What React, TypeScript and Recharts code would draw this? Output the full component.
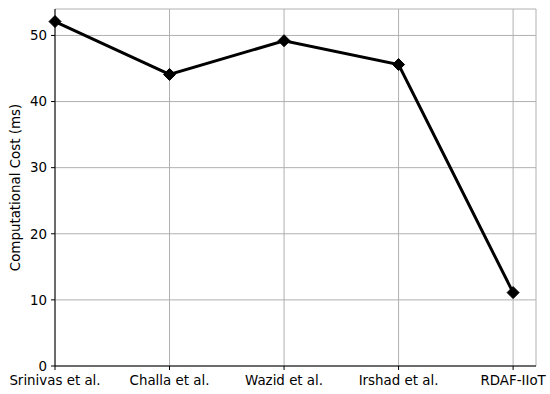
import { CartesianGrid, Line, LineChart, XAxis, YAxis } from 'recharts'

const schemes = ['Srinivas et al.', 'Challa et al.', 'Wazid et al.', 'Irshad et al.', 'RDAF-IIoT']
const costMs = [52.1, 44.1, 49.2, 45.6, 11.1]
const yTicks = [0, 10, 20, 30, 40, 50]

const data = schemes.map((name, i) => ({ idx: i, name, cost: costMs[i] }))

const font = { fontFamily: 'DejaVu Sans', fontSize: 13.4, fill: '#000' }

function Diamond(props: any) {
  const { cx, cy } = props
  if (cx == null || cy == null) return null
  const r = 6
  return (
    <polygon
      points={`${cx},${cy - r} ${cx + r},${cy} ${cx},${cy + r} ${cx - r},${cy}`}
      fill="#000"
      stroke="#000"
    />
  )
}

export default function App() {
  return (
    <div style={{ position: 'absolute', left: 0, top: 0, width: 550, height: 394, background: '#fff' }}>
      <LineChart
        width={550}
        height={394}
        data={data}
        margin={{ top: 9, right: 14, left: 0, bottom: 0 }}
      >
        <CartesianGrid stroke="#b0b0b0" strokeWidth={1} />
        <XAxis
          dataKey="idx"
          type="number"
          domain={[0, 4.2]}
          ticks={[0, 1, 2, 3, 4]}
          tickFormatter={(v: number) => schemes[v]}
          tick={font}
          tickLine={{ stroke: '#000' }}
          tickSize={4}
          tickMargin={5}
          axisLine={{ stroke: '#000' }}
          height={28}
          interval={0}
        />
        <XAxis xAxisId="top" orientation="top" type="number" domain={[0, 4.2]} tick={false} tickLine={false} axisLine={{ stroke: '#000' }} height={0} />
        <YAxis
          type="number"
          domain={[0, 54]}
          ticks={yTicks}
          tick={font}
          tickLine={{ stroke: '#000' }}
          tickSize={4}
          tickMargin={4}
          axisLine={{ stroke: '#000' }}
          width={55}
          label={{
            value: 'Computational Cost (ms)',
            angle: -90,
            position: 'insideLeft',
            offset: 15,
            style: { ...font, textAnchor: 'middle' },
          }}
        />
        <YAxis yAxisId="right" orientation="right" domain={[0, 54]} tick={false} tickLine={false} axisLine={{ stroke: '#000' }} width={0} />
        <Line
          dataKey="cost"
          stroke="#000"
          strokeWidth={3}
          dot={<Diamond />}
          activeDot={false}
          isAnimationActive={false}
        />
      </LineChart>
    </div>
  )
}
